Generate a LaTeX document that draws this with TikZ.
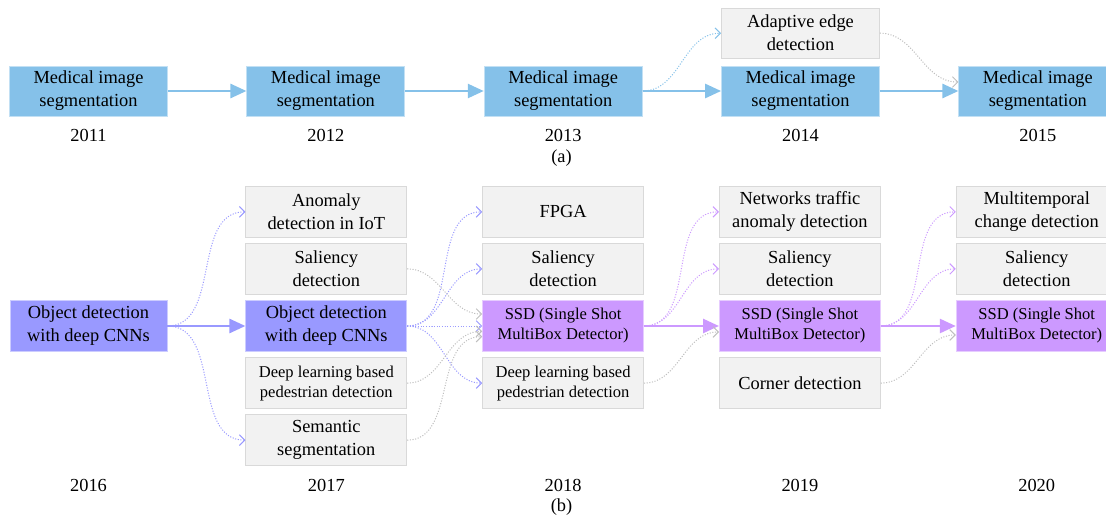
\documentclass[tikz,border=0pt]{standalone}
\usepackage{fontspec}
\setmainfont{Liberation Serif}
\usepackage{xcolor}
\definecolor{medblue}{HTML}{85C1E9}
\definecolor{cnnblue}{HTML}{9999FF}
\definecolor{ssdpurple}{HTML}{CC99FF}
\definecolor{boxgrey}{HTML}{F2F2F2}
\definecolor{edgegrey}{HTML}{D9D9D9}
\definecolor{linegrey}{HTML}{BFBFBF}
\usetikzlibrary{arrows.meta,positioning}

\begin{document}
\begin{tikzpicture}[x=0.75pt,y=0.75pt,
  box/.style={draw=edgegrey,fill=boxgrey,line width=0.6pt,inner sep=1pt,align=center,
              font=\fontsize{13.8}{17.25}\selectfont,minimum height=37.9pt,minimum width=120.75pt},
  sm/.style={font=\fontsize{12.4}{15}\selectfont},
  medbox/.style={box,fill=medblue,draw=medblue!50!white,minimum width=118.5pt,minimum height=37.5pt},
  cnnbox/.style={box,fill=cnnblue,draw=cnnblue!50!white},
  ssdbox/.style={box,sm,fill=ssdpurple,draw=ssdpurple!50!white},
  yr/.style={font=\fontsize{13.8}{17.25}\selectfont,inner sep=0pt},
  arr/.style={-{Triangle[length=12pt,width=10.5pt]},line width=2pt},
  dotarr/.style={dash pattern=on 0.8pt off 1.2pt,line width=0.75pt,-{Straight Barb[length=4pt,width=8pt]}}]
\useasboundingbox (0,0) rectangle (1106,-517);
% (a)
\node[medbox] (m11) at (88.5,-91) {Medical image\\segmentation};
\node[medbox,right=58.9pt of m11] (m12) {Medical image\\segmentation};
\node[medbox,right=58.9pt of m12] (m13) {Medical image\\segmentation};
\node[medbox,right=58.9pt of m13] (m14) {Medical image\\segmentation};
\node[medbox,right=58.9pt of m14] (m15) {Medical image\\segmentation};
\node[box,minimum width=118.5pt,minimum height=37.5pt,above=5.25pt of m14] (ad14) {Adaptive edge\\detection};
\foreach \n/\y in {m11/2011,m12/2012,m13/2013,m14/2014,m15/2015}
  \node[yr] (y\y) at (\n |- 0,-135) {\y};
\node[yr] (capa) at (561.5,-158) {(a)};
\draw[arr,medblue] (m11) -- (m12);
\draw[arr,medblue] (m12) -- (m13);
\draw[arr,medblue] (m13) -- (m14);
\draw[arr,medblue] (m14) -- (m15);
\draw[dotarr,medblue] (m13.east) to[out=0,in=180] (ad14.west);
\draw[dotarr,linegrey] (ad14.east) to[out=0,in=180] ([yshift=6.75pt]m15.west);
% (b)
\node[cnnbox,minimum width=117.75pt] (o16) at (88.5,-326) {Object detection\\with deep CNNs};
\node[cnnbox,right=58.5pt of o16] (o17) {Object detection\\with deep CNNs};
\node[box,above=4.3pt of o17] (s17) {Saliency\\detection};
\node[box,above=4.3pt of s17] (a17) {Anomaly\\detection in IoT};
\node[box,sm,below=4.3pt of o17] (d17) {Deep learning based\\pedestrian detection};
\node[box,below=4.3pt of d17] (e17) {Semantic\\segmentation};
\node[ssdbox,right=56.25pt of o17] (x18) {SSD (Single Shot\\MultiBox Detector)};
\node[box,above=4.3pt of x18] (s18) {Saliency\\detection};
\node[box,above=4.3pt of s18] (f18) {FPGA};
\node[box,sm,below=4.3pt of x18] (d18) {Deep learning based\\pedestrian detection};
\node[ssdbox,right=56.25pt of x18] (x19) {SSD (Single Shot\\MultiBox Detector)};
\node[box,above=4.3pt of x19] (s19) {Saliency\\detection};
\node[box,above=4.3pt of s19] (n19) {Networks traffic\\anomaly detection};
\node[box,below=4.3pt of x19] (c19) {Corner detection};
\node[ssdbox,right=56.25pt of x19] (x20) {SSD (Single Shot\\MultiBox Detector)};
\node[box,above=4.3pt of x20] (s20) {Saliency\\detection};
\node[box,above=4.3pt of s20] (t20) {Multitemporal\\change detection};
\foreach \n/\y in {o16/2016,o17/2017,x18/2018,x19/2019,x20/2020}
  \node[yr] (y\y) at (\n |- 0,-485) {\y};
\node[yr] (capb) at (561.5,-507) {(b)};
\draw[arr,cnnblue] (o16) -- (o17);
\draw[arr,ssdpurple] (x18) -- (x19);
\draw[arr,ssdpurple] (x19) -- (x20);
\foreach \t in {a17,e17}
  \draw[dotarr,cnnblue] (o16.east) to[out=0,in=180] (\t.west);
\foreach \t in {f18,s18,x18,d18}
  \draw[dotarr,cnnblue] (o17.east) to[out=0,in=180] (\t.west);
\draw[dotarr,linegrey] (s17.east) to[out=0,in=180] ([yshift=9pt]x18.west);
\draw[dotarr,linegrey] (d17.east) to[out=0,in=180] ([yshift=-4pt]x18.west);
\draw[dotarr,linegrey] (e17.east) to[out=0,in=180] ([yshift=-8pt]x18.west);
\foreach \t in {n19,s19}
  \draw[dotarr,ssdpurple] (x18.east) to[out=0,in=180] (\t.west);
\draw[dotarr,linegrey] (d18.east) to[out=0,in=180] ([yshift=-4.5pt]x19.west);
\foreach \t in {t20,s20}
  \draw[dotarr,ssdpurple] (x19.east) to[out=0,in=180] (\t.west);
\draw[dotarr,linegrey] (c19.east) to[out=0,in=180] ([yshift=-6.75pt]x20.west);
\end{tikzpicture}
\end{document}
